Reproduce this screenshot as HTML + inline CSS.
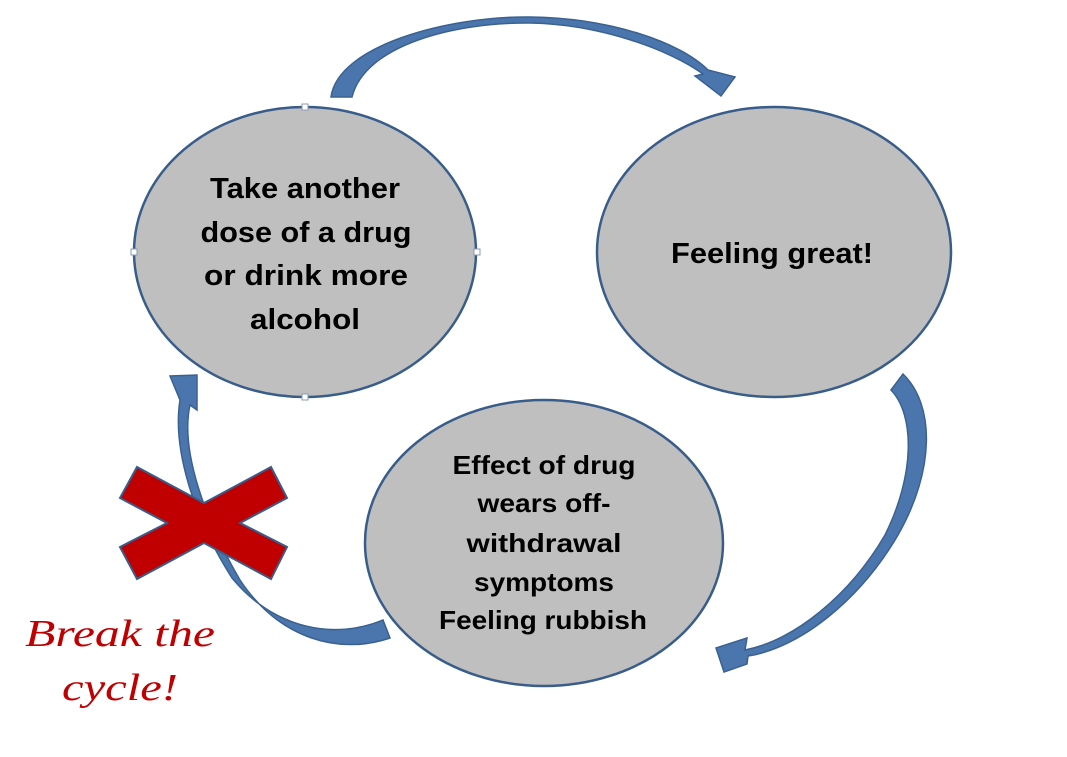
<!DOCTYPE html>
<html><head><meta charset="utf-8"><style>
html,body{margin:0;padding:0;background:#fff;}
svg{display:block}
</style></head><body>
<svg width="1067" height="757" viewBox="0 0 1067 757" xmlns="http://www.w3.org/2000/svg">
<g stroke="#385d8a" stroke-width="2.5" fill="#bfbfbf">
<ellipse cx="305" cy="252" rx="171" ry="145"/>
<ellipse cx="774" cy="252" rx="177" ry="145"/>
<ellipse cx="544" cy="543" rx="179" ry="143"/>
</g>
<g fill="#fff" stroke="#8a9bb0" stroke-width="1">
<rect x="302" y="104" width="6" height="6"/><rect x="131" y="249" width="6" height="6"/>
<rect x="474" y="249" width="6" height="6"/><rect x="302" y="394" width="6" height="6"/>
</g>
<g fill="#4a76ad" stroke="#3b6190" stroke-width="1.5">
<path d="M331,97 C338,45 450,16 530,17 C610,18 680,42 708,70 L735,77 L721,96 L695,76 L703,74 C670,50 600,24 530,23 C455,22 365,45 352,97 Z"/>
<path d="M903,374 C935,405 935,470 898,535 C860,600 800,648 748,656 L747,664 L724,672 L716,648 L747,638 L745,650 C795,640 850,595 885,535 C915,475 915,415 891,390 Z"/>
<path d="M390,638 C340,655 280,640 240,580 C205,520 180,450 190,405 L197,410 L197,375 L170,376 L180,400 C172,450 195,520 232,578 C275,630 335,640 383,620 Z"/>
</g>
<polygon points="120,498 137,467 204,503 271,467 287,498 240,523 287,547 271,579 204,543 137,579 120,547 167,523" fill="#c00000" stroke="#385d8a" stroke-width="2"/>
<g font-family="'Liberation Sans',sans-serif" font-weight="bold" fill="#000" text-anchor="middle" lengthAdjust="spacingAndGlyphs">
<g font-size="29">
<text x="305" y="198" textLength="190" lengthAdjust="spacingAndGlyphs">Take another</text>
<text x="306" y="242" textLength="211" lengthAdjust="spacingAndGlyphs">dose of a drug</text>
<text x="306" y="285" textLength="204" lengthAdjust="spacingAndGlyphs">or drink more</text>
<text x="305" y="329" textLength="110" lengthAdjust="spacingAndGlyphs">alcohol</text>
<text x="772" y="263" textLength="202" lengthAdjust="spacingAndGlyphs">Feeling great!</text>
</g>
<g font-size="26">
<text x="544" y="474" textLength="183" lengthAdjust="spacingAndGlyphs">Effect of drug</text>
<text x="544" y="512" textLength="133" lengthAdjust="spacingAndGlyphs">wears off-</text>
<text x="544" y="552" textLength="155" lengthAdjust="spacingAndGlyphs">withdrawal</text>
<text x="544" y="591" textLength="140" lengthAdjust="spacingAndGlyphs">symptoms</text>
<text x="543" y="629" textLength="208" lengthAdjust="spacingAndGlyphs">Feeling rubbish</text>
</g>
</g>
<g font-family="'Liberation Serif',serif" font-style="italic" font-size="38" fill="#c00000">
<text x="25" y="646" textLength="190" lengthAdjust="spacingAndGlyphs">Break the</text>
<text x="62" y="700" textLength="116" lengthAdjust="spacingAndGlyphs">cycle!</text>
</g>
</svg>
</body></html>
